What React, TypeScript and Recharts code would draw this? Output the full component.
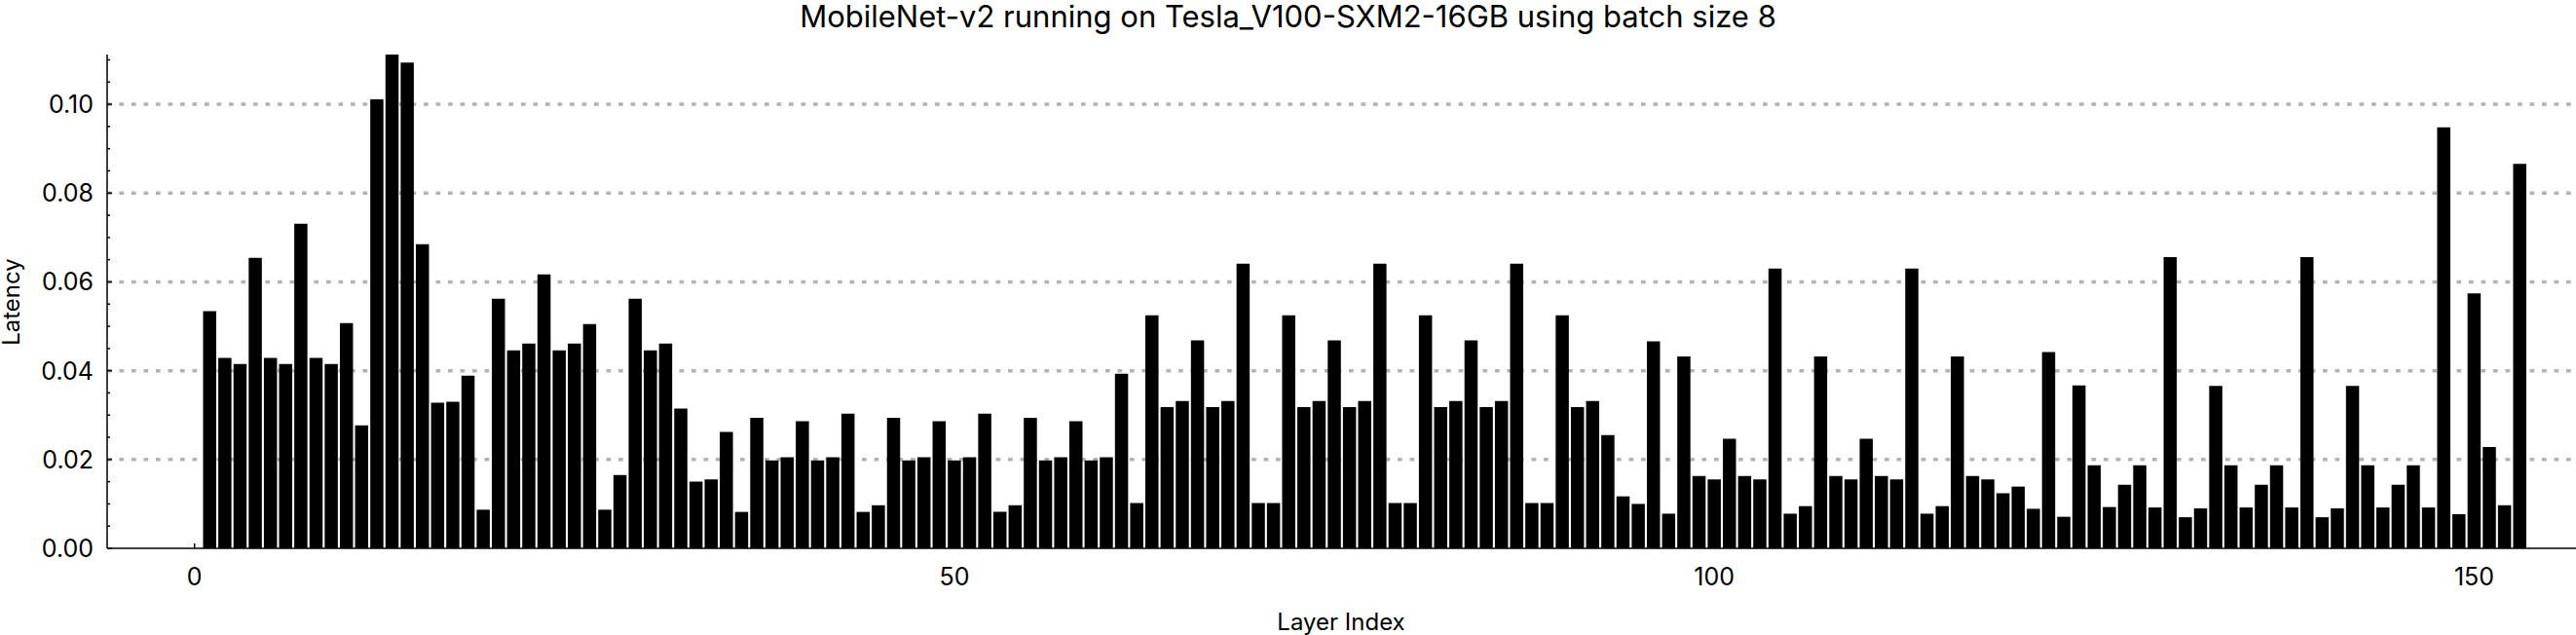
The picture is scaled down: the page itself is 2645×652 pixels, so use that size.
import React from "react";
import { BarChart, Bar, XAxis, YAxis, CartesianGrid } from "recharts";

// latency per layer, layer index = position + 1
const latency = [
  0.0534, 0.0429, 0.0415, 0.0654, 0.0429, 0.0415, 0.0731, 0.0429, 0.0415, 0.0507,
  0.0277, 0.1011, 0.115, 0.1094, 0.0685, 0.0328, 0.033, 0.0389, 0.0087, 0.0562,
  0.0446, 0.0461, 0.0617, 0.0446, 0.0461, 0.0505, 0.0087, 0.0165, 0.0562, 0.0446,
  0.0461, 0.0315, 0.015, 0.0155, 0.0262, 0.0082, 0.0294, 0.0198, 0.0205, 0.0286,
  0.0198, 0.0205, 0.0303, 0.0082, 0.0097, 0.0294, 0.0198, 0.0205, 0.0286, 0.0198,
  0.0205, 0.0303, 0.0082, 0.0097, 0.0294, 0.0198, 0.0205, 0.0286, 0.0198, 0.0205,
  0.0393, 0.0102, 0.0525, 0.0318, 0.0332, 0.0468, 0.0318, 0.0332, 0.0641, 0.0102,
  0.0102, 0.0525, 0.0318, 0.0332, 0.0468, 0.0318, 0.0332, 0.0641, 0.0102, 0.0102,
  0.0525, 0.0318, 0.0332, 0.0468, 0.0318, 0.0332, 0.0641, 0.0102, 0.0102, 0.0525,
  0.0318, 0.0332, 0.0255, 0.0117, 0.01, 0.0466, 0.0078, 0.0432, 0.0163, 0.0155,
  0.0247, 0.0163, 0.0155, 0.063, 0.0078, 0.0095, 0.0432, 0.0163, 0.0155, 0.0247,
  0.0163, 0.0155, 0.063, 0.0078, 0.0095, 0.0432, 0.0163, 0.0155, 0.0124, 0.0139,
  0.0089, 0.0442, 0.0071, 0.0367, 0.0187, 0.0093, 0.0143, 0.0187, 0.0092, 0.0656,
  0.007, 0.009, 0.0366, 0.0187, 0.0092, 0.0143, 0.0187, 0.0092, 0.0656, 0.007,
  0.009, 0.0366, 0.0187, 0.0092, 0.0143, 0.0187, 0.0092, 0.0948, 0.0077, 0.0574,
  0.0228, 0.0097, 0.0866,
];

const xTicks = [0, 50, 100, 150];
const yMajorTicks = [0, 0.02, 0.04, 0.06, 0.08, 0.1];
const yMinorTicks = [
  0.005, 0.01, 0.015, 0.025, 0.03, 0.035, 0.045, 0.05, 0.055, 0.065, 0.07, 0.075,
  0.085, 0.09, 0.095, 0.105, 0.11,
];
const gridValues = [0.02, 0.04, 0.06, 0.08, 0.1];

const data = latency.map((v, i) => ({ layer: i + 1, latency: v }));
const yTicks = [...yMajorTicks, ...yMinorTicks].sort((a, b) => a - b);

const FONT = "Inter, 'Open Sans', sans-serif";

const XTick = (props: any) => {
  const { x, y, payload } = props;
  return (
    <g>
      <line x1={x} x2={x} y1={y} y2={y - 5} stroke="#000" strokeWidth={1.5} />
      <text x={x} y={y + 29} textAnchor="middle" dominantBaseline="central" fontSize={25} fontFamily={FONT} fill="#000">
        {payload.value}
      </text>
    </g>
  );
};

const YTick = (props: any) => {
  const { x, y, payload } = props;
  const major = yMajorTicks.some((t) => Math.abs(t - payload.value) < 1e-9);
  return (
    <g>
      <line x1={x} x2={x + (major ? 5 : 3)} y1={y} y2={y} stroke="#000" strokeWidth={1.5} />
      {major && (
        <text x={x - 14} y={y} textAnchor="end" dominantBaseline="central" fontSize={25} fontFamily={FONT} fill="#000">
          {payload.value.toFixed(2)}
        </text>
      )}
    </g>
  );
};

// dotted grey grid line, drawn thick like the reference
const GridLine = (p: any) => (
  <line
    key={p.key}
    x1={p.x1}
    x2={p.x2}
    y1={p.y1}
    y2={p.y2}
    stroke="#b3b3b3"
    strokeWidth={3.5}
    strokeDasharray="4.7 7.8"
    fill="none"
  />
);

export default function App() {
  return (
    <div style={{ position: "absolute", left: 0, top: 0, width: 2645, height: 652, background: "#fff", fontFamily: FONT }}>
      <BarChart width={2645} height={652} data={data} margin={{ top: 56, right: 0, bottom: 0, left: 0 }}>
        <CartesianGrid vertical={false} horizontalValues={gridValues} horizontal={GridLine} />
        <XAxis
          dataKey="layer"
          type="number"
          domain={[-5.75, 156.7]}
          ticks={xTicks}
          interval={0}
          height={89}
          tickSize={0}
          tickMargin={0}
          tickLine={false}
          axisLine={{ stroke: "#000", strokeWidth: 1.5 }}
          tick={<XTick />}
        />
        <XAxis
          xAxisId="top"
          orientation="top"
          height={0}
          tick={false}
          tickLine={false}
          axisLine={{ stroke: "#000", strokeWidth: 1.5 }}
        />
        <YAxis
          type="number"
          domain={[0, 0.1112]}
          allowDataOverflow
          ticks={yTicks}
          interval={0}
          width={110}
          tickSize={0}
          tickMargin={0}
          tickLine={false}
          axisLine={{ stroke: "#000", strokeWidth: 1.5 }}
          tick={<YTick />}
        />
        <Bar dataKey="latency" fill="#000" barSize={13.5} isAnimationActive={false} />
      </BarChart>
      <div
        style={{
          position: "absolute",
          left: 0,
          top: 0,
          width: 2645,
          lineHeight: "34px",
          textAlign: "center",
          fontSize: 31,
          color: "#000",
        }}
      >
        MobileNet-v2 running on Tesla_V100-SXM2-16GB using batch size 8
      </div>
      <div
        style={{
          position: "absolute",
          left: 11,
          top: 310,
          transform: "translate(-50%, -50%) rotate(-90deg)",
          fontSize: 24,
          whiteSpace: "nowrap",
          color: "#000",
        }}
      >
        Latency
      </div>
      <div
        style={{
          position: "absolute",
          left: 1377,
          top: 638,
          transform: "translate(-50%, -50%)",
          fontSize: 24,
          whiteSpace: "nowrap",
          color: "#000",
        }}
      >
        Layer Index
      </div>
    </div>
  );
}
